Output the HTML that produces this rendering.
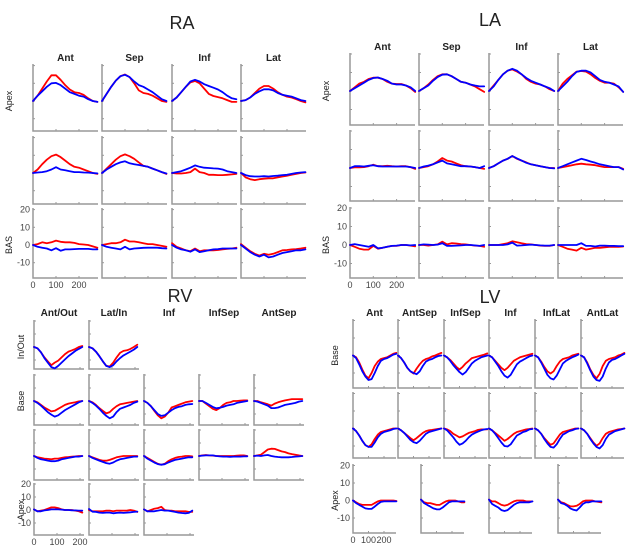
<!DOCTYPE html>
<html><head><meta charset="utf-8">
<style>
html,body{margin:0;padding:0;background:#fff;}
svg{display:block;font-family:"Liberation Sans",sans-serif;}
</style></head>
<body>
<svg id="chart" width="634" height="552" viewBox="0 0 634 552"></svg>
<script>
// time samples
const tRA = [0,20,40,60,80,100,120,140,160,180,200,220,240,260,280];
const tRV = [0,15,30,45,60,75,90,105,120,135,150,165,180,195,210];
const xTicks = [0,100,200];
const yTicks = [20,10,0,-10];
const raCols = ["Ant","Sep","Inf","Lat"];
const raRows = ["Apex","","BAS"];
const laCols = ["Ant","Sep","Inf","Lat"];
const laRows = ["Apex","","BAS"];
const rvCols = ["Ant/Out","Lat/In","Inf","InfSep","AntSep"];
const rvRows = ["In/Out","Base","","Apex"];
const lvCols = ["Ant","AntSep","InfSep","Inf","InfLat","AntLat"];
const lvRows = ["Base","","Apex"];

// RA values [row][col]
const raRed = [
 [[0,3,7,11,14.5,14.5,12,9,6.5,5,4.5,3.5,1.5,0,-0.5],[0,4,8,11.5,14,15,13.5,10,6,4.5,4,3,1.5,0,-0.5],[0,2,5,8,10.5,11.3,10,7,4,2.8,2.2,1.5,0.5,-0.5,-0.5],[0,0.5,2,4.5,7,8.5,8.5,7,5,3.5,2.5,2,1,0,-0.8]],
 [[0,2,5,7.5,9.5,10.4,9,7,5,3.5,3,2,1,0,-0.5],[0,2.5,5,7.5,9.5,10.5,9.5,8,6,4,3.5,2.5,1.5,0.5,-0.5],[0,-0.3,-0.3,0,0.5,2.5,0.5,0,-1,-1,-1.2,-1.2,-1,-0.8,-0.5],[0,-2.5,-3.5,-4,-3.5,-3.2,-3,-3,-2.5,-2,-1.5,-1,-0.5,0,0.3]],
 [[0,0.5,1.5,1,1.5,2.5,1.8,1.5,1.5,1.2,0.5,0.3,0,-0.8,-1.5],[0,0.5,1,1,1.5,3,2,2,1.5,1,0.5,0.5,0,-0.5,-1],[1,-1,-2,-3,-3.5,-2,-3.5,-3,-3,-3,-2.8,-2.5,-2.2,-2,-1.5],[0.5,-1.5,-3.5,-5,-6,-5,-5.5,-5,-4,-3,-2.8,-2.5,-2.3,-2,-1.5]]
];
const raBlue = [
 [[0,3,5.5,8,10,10.2,9,7,5,4,3,2.5,1,0,-0.5],[0,4,8,11.5,14,14.8,13.5,11,9,8,6.5,5,3,1,0],[0,2,5,8,11,12,11,9.5,8.5,7.5,6.5,5,3,1.5,1],[0,0.5,2,4,5.5,6.6,6.6,6,4.5,3.5,3,2.5,1.5,0.5,0]],
 [[0,0.3,0.5,1,2,3.3,2,1.5,1,0.5,0.5,0.3,0.2,0,-0.2],[0,2,3.5,5,6,6.6,5.5,5,4.5,4,3.5,2.5,1.5,0.5,-0.3],[0,0.5,1,2,3,4.3,3.5,3,2.8,2.6,2.5,2,1,0.5,0],[0,-1.2,-1.8,-2,-2,-1.8,-2,-1.7,-1.5,-1.2,-1,-0.5,0,0.3,0.5]],
 [[0,-1,-1.5,-2,-3,-1.8,-3.2,-2.5,-2.5,-2.3,-2.2,-2.2,-2.2,-2.5,-2.5],[0,-1,-1.5,-2,-2.5,-1,-2.5,-2,-1.8,-1.6,-1.5,-1.5,-1.5,-1.8,-2],[0,-1.5,-2.5,-3,-3.8,-2.5,-4,-3.5,-3,-2.5,-2.3,-2,-2,-2,-2],[0,-2,-4,-5.5,-6.5,-5.5,-7,-6.5,-5.5,-4.5,-4,-3.5,-3,-3,-2.5]]
];
// LA values
const laRed = [
 [[0,2,4,5,6.5,7.2,7.2,6.5,5,4,3.8,3.8,3,1.5,-0.5],[0,1.5,3.5,6,8,9,9,8,6.5,5,4.5,3.5,2.5,1,-0.5],[0,3,6,9,11,11.7,10.5,9,6.5,5,4,3.5,2.5,1,0],[0,4,6.5,8.5,10.5,10.8,10.5,9,7,5.5,4.5,4.5,4,2,-0.5]],
 [[0,0.3,0.3,0.5,1,1.8,1,1,1.2,1,0.8,1,1,0.5,-0.5],[0,0.5,1,2,3.5,5.4,4,3.5,2.5,1.5,1,0.8,0.5,0,-0.5],[0,1,2.5,4,5,6.5,5,4,3,2,1.5,1,0.5,0,0],[0,0.5,1,1.5,2,2.3,2,1.8,1.5,1,0.5,0.5,0.5,0.5,-0.5]],
 [[0,-1,-2,-2.5,-2.5,-0.5,-2,-1.5,-1,-0.5,-0.5,0,0,-0.3,-0.7],[0,0,-0.3,0,0.3,1.8,0.3,1,0.8,0.5,0.3,0,-0.3,-0.5,-1],[0,0,0,0.5,1,2,1.5,1,0.5,0.3,0,-0.3,-0.5,-0.5,0],[0,-1,-2,-2.5,-3,-1.5,-2.5,-2,-1.5,-1.5,-1.3,-1,-1,-1,-0.8]]
];
const laBlue = [
 [[0,1.5,3,4.5,6,7,7.3,6.5,5.5,4,3.5,3.5,3,2,0],[0,1.5,3,5.5,7.5,8.8,9,8,6.5,5,4.5,3.5,3,2.5,2.5],[0,2.5,6,9,11,12,11,9,7,5.5,4.5,3.5,2.5,1.5,0],[0,2.5,5,8,10.3,11,11,10,8,6,5,4.5,3.5,2.5,-0.5]],
 [[0,1,1,0.8,1.2,1.5,1,0.8,0.8,0.8,0.8,0.8,0.8,0.5,0],[0,0.8,1.3,2,3,4,2.5,2,1.5,1,1,0.8,0.5,0,1],[0,1,2.5,4,5,6.5,5.2,4,2.8,2,1.5,1,0.5,0,-0.2],[0,1,2,3,4,5,4.3,3.5,2.8,2,1.5,1,0.5,0.5,-0.8]],
 [[0,0.5,0,-0.5,-1,0,-1.8,-1.5,-1,-0.5,-0.3,0,0,-0.2,0],[0,0.3,0.2,0,0.2,1,-0.5,-0.5,-0.3,-0.2,0,0,-0.2,-0.5,0],[0,0,0,0,0.3,1.3,-0.3,-0.2,0,0.2,0,-0.2,-0.3,-0.3,0],[0,0,0,0,0,1,-0.5,-0.5,-0.8,-0.3,-0.3,-0.5,-0.5,-0.6,-0.6]]
];
// RV values (null = empty panel)
const rvRed = [
 [[0,-1,-4,-8,-11,-14,-12,-10.5,-8,-5.5,-3.5,-2.5,-1.5,0,0.8],[0,-1,-3.5,-7,-11,-14.5,-15,-12,-8,-4.5,-3,-2.5,-1.5,0,1.8],null,null,null],
 [[0,-1,-3,-5,-6.5,-8,-7.5,-6,-4.5,-3,-2,-1.5,-1,-0.3,0],[0,-1,-3,-5.5,-7.5,-9.5,-8.5,-6,-4,-2.5,-2,-1.5,-1,-0.5,0],[0,-1.5,-4,-7.5,-11,-13.3,-12,-9,-5,-4,-3,-2,-1,-0.5,0],[0,0,-2,-4,-6,-7,-5.5,-3,-1.5,-1,0,0,0.3,0.5,0.5],[0,0,-1,-1.8,-2.5,-3.5,-2,-1,-0.2,0.5,1,1.5,1.5,1.5,1.5]],
 [[0,-1,-1.5,-2,-2.2,-2.5,-2,-2,-1.5,-1,-0.8,-0.5,-0.3,0,0],[0,-1,-2,-3,-3.5,-3.6,-3,-2,-1,-0.5,0,0,0,0,0],[0,-1.5,-3,-4.5,-6,-6.7,-6,-4,-2.5,-1.5,-0.8,-0.5,0,0,-0.3],[0,0.5,0.8,0.5,0.3,0,0,0,0,0,0,0.3,0.5,0.5,0],[0,0.5,1,3,5,5.6,5.5,4.5,3.5,3,2,1.5,1,0.5,0]],
 [[0.5,-1,-0.5,0,1,2,2,1.5,0.5,0,0,0,-0.5,-1,-2],[0,-1,-1,-1,-1,-0.5,-0.5,-1,-0.5,-0.5,-0.5,-0.5,0,-0.5,-1.5],[0.5,-1,0,1,1.5,2.5,0,-0.5,-0.5,-1,-1,-1,-1,-1.5,-1.5],null,null]
];
const rvBlue = [
 [[0,-1,-4,-8.5,-12,-15.5,-16.5,-14.5,-12,-9.5,-7,-5,-3,-1.5,0],[0,-1,-3.5,-7,-11,-14.5,-15.5,-14,-11,-8.5,-6.5,-5,-3.5,-2,0],null,null,null],
 [[0,-1.5,-3.5,-6,-8.5,-10.5,-12,-11,-9,-7,-5.5,-4,-2.5,-1,0],[0,-1.5,-3.5,-6,-9,-11.5,-13.3,-12,-8.5,-6,-5,-4,-3,-1.5,-0.5],[0,-1.5,-4,-7,-10,-11.5,-11,-9,-7,-5.5,-4.5,-4,-3,-2.5,-2.3],[0,0,-1.5,-3,-4.5,-5.6,-5.2,-4.5,-3.5,-3,-2.5,-1.5,-1,-0.5,0],[0,-0.5,-1.5,-2.5,-3.5,-5.5,-5.5,-5,-4,-3,-2.5,-2,-1.5,-0.5,0]],
 [[0,-1.5,-2.5,-3,-3.5,-4,-4,-3.5,-2.5,-2,-1.5,-1,-0.5,-0.5,0],[0,-1.5,-2.5,-3.5,-4.5,-5.5,-5.9,-5,-3.5,-2.5,-2,-1.5,-1,-0.5,-0.5],[0,-2,-3.5,-5,-6.2,-6.7,-6.3,-5,-4,-3,-2.5,-2,-1.5,-1,-1],[0,0.3,0.5,0.5,0.5,0,-0.3,-0.5,-0.5,-0.7,-0.5,-0.5,-0.5,-0.3,-0.2],[0,0.3,0,0.5,0.8,0,-0.5,-0.8,-1,-1,-1,-0.8,-0.5,-0.3,0]],
 [[0.5,-1,-1,-0.3,0,0.5,0.5,0.5,0.3,0,0,-0.3,-0.3,-0.5,-0.5],[0.8,-1.3,-1.5,-2,-2.2,-2,-2,-2.5,-2.2,-2,-2.2,-2,-1.8,-1.5,-1.2],[0.5,-1,-1,-1,-0.5,0,-0.5,-0.5,-1,-1.5,-2,-2.3,-2.5,-2.2,-0.5],null,null]
];
// LV values (row 3 has 4 panels at half-column offsets)
const lvRed = [
 [[0,-1,-4,-8,-11.5,-13,-10,-6,-3.5,-2,-1.5,-1,0,1,1.5],[0,-1.5,-4,-7,-9,-10.3,-7.5,-5,-3,-2,-1.5,-0.5,0,0.8,1.5],[0,-1,-2.5,-4.5,-6.5,-8,-6.5,-4.5,-3,-1.5,-1,-0.5,0,0.5,1.2],[0,-1,-3,-5,-7,-8.4,-7,-5,-3,-2,-1,-0.5,0,0.5,1],[0,-1,-3.5,-6.5,-9,-10.3,-9,-6,-3.5,-2,-1.5,-1,0,0.5,1],[0,-1,-4,-8,-11,-13,-10.5,-6,-3,-2,-1.5,-1,0,0.5,1.5]],
 [[0,-1.5,-4,-7,-9.5,-10.5,-9,-6,-3.5,-2,-1.5,-1,-0.5,0,0],[0,-1,-2.5,-4,-5.5,-6.7,-5.5,-4,-2.5,-1.5,-1,-0.8,-0.5,-0.2,0],[0,-0.5,-1.5,-3,-4,-5.1,-4.5,-3.5,-2.5,-2,-1.5,-0.8,-0.5,-0.5,-0.5],[0,-1,-2.5,-4,-5.5,-7,-6,-4.5,-3,-2,-1.5,-1,-0.5,-0.3,0],[0,-1,-3,-5.5,-7.5,-9.3,-8.5,-6,-3.5,-2,-1.5,-1,-0.5,0,0],[0,-1,-3,-5.5,-8,-9.9,-8.5,-5.5,-3,-2,-1.5,-1,-0.5,-0.3,0]],
 [[0,-1,-2,-2.5,-2.5,-2.5,-2.5,-1.5,-0.5,0,0,0,0,0,-0.3],[0.5,-1,-1.5,-1.5,-2,-2.5,-2.5,-1.5,-0.5,0,0,0,-0.5,-1,-1],[0.5,-0.5,-0.5,-1.5,-2.5,-2.9,-2.5,-1.5,-0.5,0,0,0,-0.5,-0.5,-0.5],[0.5,-1,-1.5,-2.5,-3.3,-3.4,-3,-2,-0.5,0,0,0,-0.5,-0.8,-1]]
];
const lvBlue = [
 [[0,-1.5,-5,-9,-12,-14,-13.5,-10,-6,-3,-2,-1.5,-0.5,0.5,1],[0,-1.5,-4,-7,-9,-10,-10.7,-9,-6,-3.5,-2.5,-2,-1,-0.3,0],[0,-1,-3,-5.5,-7.5,-9.5,-10.9,-9.5,-7,-4.5,-3,-2,-1,-0.5,0],[0,-1,-3.5,-6,-9,-11.5,-12.6,-11,-8,-5,-3.5,-2.5,-1.5,-0.5,0],[0,-1,-4,-7.5,-11,-13,-13.7,-11.5,-8,-4.5,-3,-2,-1,-0.3,0.5],[0,-1,-4.5,-8.5,-12,-14,-14.5,-12,-7.5,-4,-2.5,-2,-1,0,1]],
 [[0,-1.5,-4,-7,-9.5,-10.5,-10.5,-8,-5,-3,-2,-1.5,-1,-0.3,0],[0,-1,-2.5,-4.5,-6.5,-7.8,-8.4,-7,-5,-3,-2,-1.5,-1,-0.5,0],[0,-1,-3,-5,-7.5,-9.3,-8.5,-7,-5,-3.5,-2.5,-1.8,-1,-0.5,-0.3],[0,-1,-3,-5.5,-8,-10,-10.3,-9,-6.5,-4,-3,-2,-1.5,-0.5,-0.3],[0,-1,-3,-6,-8.5,-10.5,-10.9,-9,-6,-3.5,-2.5,-1.5,-1,-0.3,0],[0,-1,-3,-6,-8.5,-10.5,-11.4,-9.5,-6,-3.5,-2.5,-1.5,-1,-0.5,0]],
 [[0,-1.5,-2.5,-3.5,-4.5,-4.8,-4.8,-3.5,-2,-0.8,-0.5,-0.5,-0.5,-0.5,-0.5],[0.5,-1.5,-2.5,-3.5,-4.5,-5,-5.1,-4,-2.5,-1,-0.5,-0.5,-0.5,-0.5,-0.5],[0.5,-2,-3,-4,-5.5,-6,-5.5,-4,-2.5,-1.5,-1,-1,-1,-1,-0.5],[0.5,-1.5,-2,-3,-4.5,-5.3,-5.7,-4,-2,-1,-1,-0.5,-0.5,-0.5,-0.5]]
];

const NS = "http://www.w3.org/2000/svg";
const svg = document.getElementById("chart");
function mk(tag, attrs, parent){
  const e = document.createElementNS(NS, tag);
  for (const k in attrs) e.setAttribute(k, attrs[k]);
  (parent||svg).appendChild(e);
  return e;
}
function txt(s, x, y, size, weight, anchor, parent, rot){
  const t = mk("text", {x:x, y:y, "font-size":size, "font-weight":weight||"normal", "text-anchor":anchor||"middle", fill:"#222"}, parent);
  if (rot) t.setAttribute("transform", "rotate(-90 "+x+" "+y+")");
  t.textContent = s;
  return t;
}

function drawGroup(g){
  const grp = mk("g", {});
  
  
  const title = txt(g.title, g.titleX, g.titleY, 18, "normal", "middle", grp);
  
  
  g.cols.forEach((c, i) => {
    const ct = txt(c, g.colX[i] + g.w/2, g.colTitleY, 10, "bold", "middle", grp);
    
    
  });
  g.rows.forEach((r, j) => {
    if (!r) return;
    const rt = txt(r, g.rowLabelX, g.rowY[j] + g.zOff, 9, "normal", "middle", grp, true);
    
    
  });
  g.red.forEach((row, j) => {
    row.forEach((redVals, i) => {
      if (!redVals) return;
      const blueVals = g.blue[j][i];
      const left = g.panelX ? g.panelX(j, i) : g.colX[i];
      const top = g.rowY[j], h = g.rowH[j];
      const zeroY = top + g.zOff;
      const sx = t => left + t * g.kx;
      const sy = v => zeroY - v * g.ky;
      const p = mk("g", {}, grp);
      
      
      // ticks
      yTicks.forEach(v => {
        const y = sy(v);
        if (y < top || y > top + h) return;
        mk("line", {x1:left, x2:left+2, y1:y, y2:y, stroke:"#999", "stroke-width":1}, p);
      });
      xTicks.forEach(t => {
        const x = sx(t);
        if (x > left + g.w) return;
        mk("line", {x1:x, x2:x, y1:top+h, y2:top+h-2, stroke:"#999", "stroke-width":1}, p);
      });
      mk("polyline", {points:left+","+top+" "+left+","+(top+h)+" "+(left+g.w)+","+(top+h), fill:"none", stroke:"#999", "stroke-width":1.5}, p);
      const line = (vals, color, name) => {
        const pts = vals.map((v, k) => sx(g.t[k]).toFixed(1) + "," + sy(v).toFixed(1)).join(" ");
        const pl = mk("polyline", {points:pts, fill:"none", stroke:color, "stroke-width":1.8, "stroke-linejoin":"round", "stroke-linecap":"round"}, p);
        
        
      };
      line(redVals, "#ff0000", "red-curve");
      line(blueVals, "#0000ff", "blue-curve");
      // tick labels on bottom-left panel
      if (j === g.rows.length - 1 && i === 0) {
        yTicks.forEach(v => {
          const lt = txt(String(v), left - 3, sy(v) + 3, 9, "normal", "end", p);
          lt.setAttribute('fill', '#444');
          
          
        });
        xTicks.forEach(t => {
          const lt = txt(String(t), sx(t), top + h + 10, 9, "normal", "middle", p);
          lt.setAttribute('fill', '#444');
          
          
        });
      }
    });
  });
}

drawGroup({id:"ra", title:"RA", titleX:182, titleY:29, cols:raCols, rows:raRows, colTitleY:61,
  colX:[33,102,172,241], w:65, rowY:[64,136,208], rowH:[67,68,70], zOff:37, kx:0.23, ky:1.77,
  rowLabelX:12, t:tRA, red:raRed, blue:raBlue});
drawGroup({id:"la", title:"LA", titleX:490, titleY:26, cols:laCols, rows:laRows, colTitleY:50,
  colX:[350,419,489,558], w:65, rowY:[53,130,207], rowH:[72,71,71], zOff:38, kx:0.233, ky:1.85,
  rowLabelX:329, t:tRA, red:laRed, blue:laBlue});
drawGroup({id:"rv", title:"RV", titleX:180, titleY:302, cols:rvCols, rows:rvRows, colTitleY:316,
  colX:[34,89,144,199,254], w:50, rowY:[320,374,429,483], rowH:[49,51,51,52], zOff:27, kx:0.23, ky:1.3,
  rowLabelX:24, t:tRV, red:rvRed, blue:rvBlue});
drawGroup({id:"lv", title:"LV", titleX:490, titleY:303, cols:lvCols, rows:lvRows, colTitleY:316,
  colX:[353,398,444,489,535,581], w:43, rowY:[319,392,464], rowH:[69,66,69], zOff:36.5, kx:0.155, ky:1.75,
  rowLabelX:338, t:tRA, red:lvRed, blue:lvBlue,
  panelX:(j,i) => j === 2 ? [353,421,489,558][i] : [353,398,444,489,535,581][i]});
</script>
</body></html>
